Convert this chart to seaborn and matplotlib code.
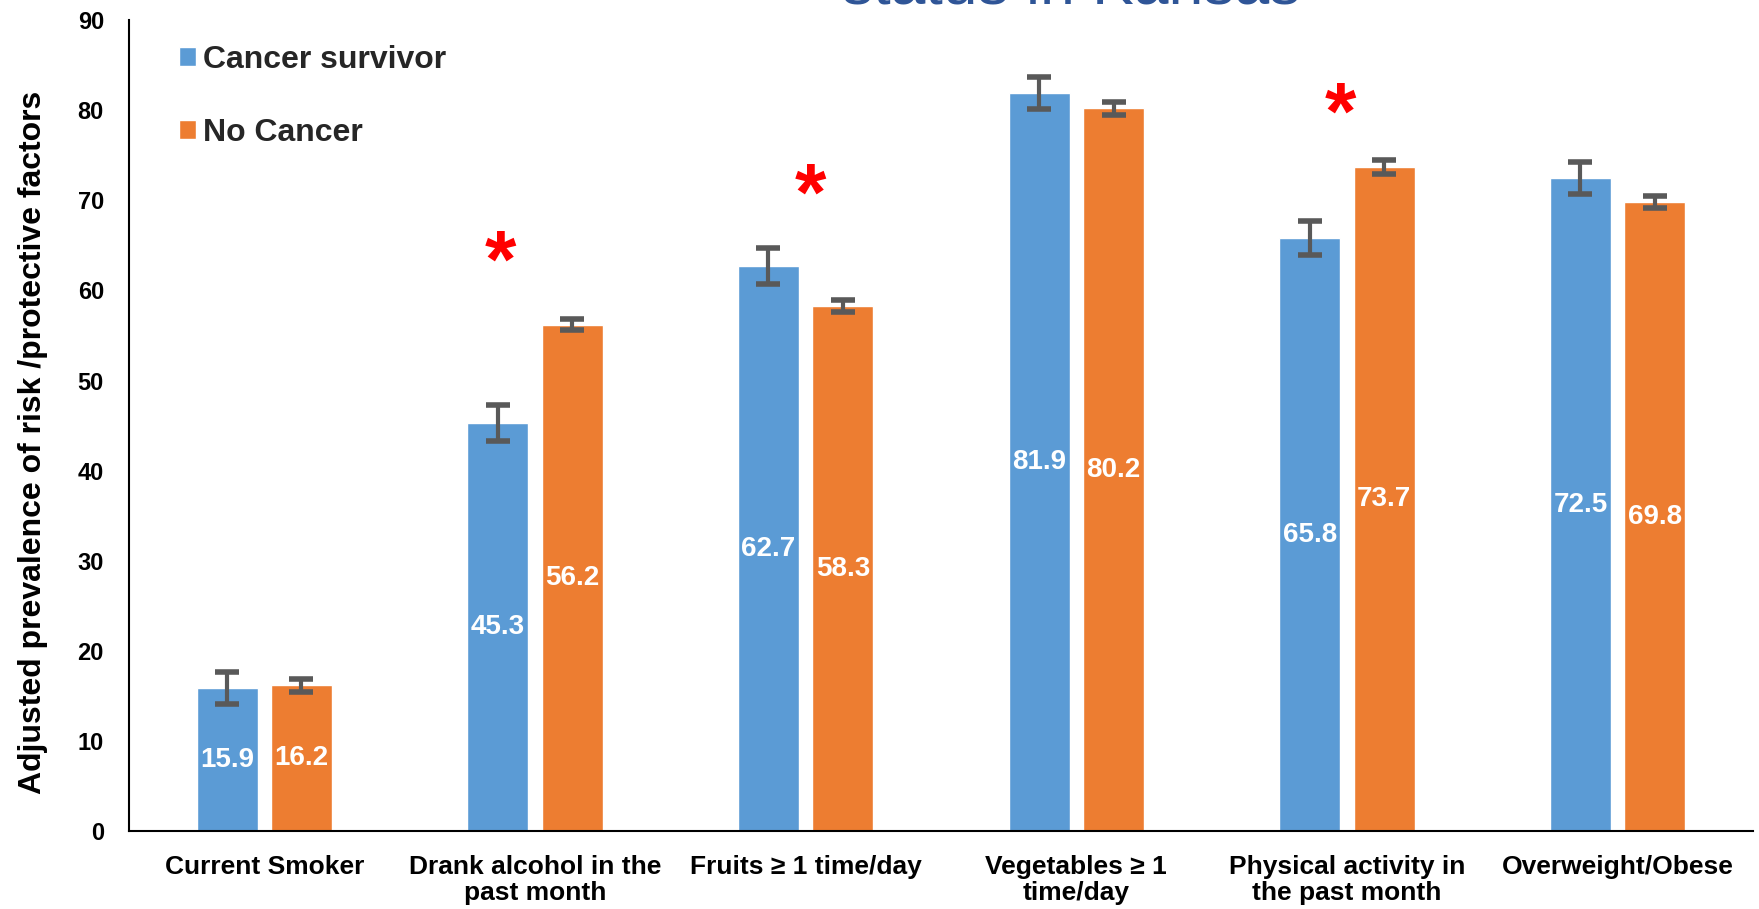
import pandas as pd
import seaborn as sns
import matplotlib.pyplot as plt

# values
categories = ["Current Smoker", "Drank alcohol in the\npast month", "Fruits ≥ 1 time/day",
              "Vegetables ≥ 1\ntime/day", "Physical activity in\nthe past month", "Overweight/Obese"]
groups = ["Cancer survivor", "No Cancer"]
survivor = [15.9, 45.3, 62.7, 81.9, 65.8, 72.5]
no_cancer = [16.2, 56.2, 58.3, 80.2, 73.7, 69.8]
survivor_err = [1.75, 2.0, 2.0, 1.75, 1.9, 1.75]
no_cancer_err = [0.7, 0.6, 0.7, 0.7, 0.75, 0.7]
significant = [False, True, True, False, True, False]


def plot_prevalence():
    df = pd.DataFrame({
        "category": categories * 2,
        "group": [groups[0]] * len(categories) + [groups[1]] * len(categories),
        "value": survivor + no_cancer,
    })

    sns.set_theme(style="white")
    plt.rcParams["font.family"] = ["Liberation Sans", "DejaVu Sans"]

    fig = plt.figure(figsize=(17.59, 9.09), dpi=100)
    ax = fig.add_axes([0.0733, 0.0853, 0.9233, 0.8927])

    sns.barplot(data=df, x="category", y="value", hue="group", order=categories,
                hue_order=groups, palette=["#5B9BD5", "#ED7D31"], width=0.55, gap=0.18,
                errorbar=None, saturation=1, ax=ax)

    # error bars + labels in the middle of each bar
    errs = [survivor_err, no_cancer_err]
    for cont, err in zip(ax.containers, errs):
        xs = [b.get_x() + b.get_width() / 2 for b in cont]
        hs = [b.get_height() for b in cont]
        ax.errorbar(xs, hs, yerr=err, fmt="none", ecolor="#595959", elinewidth=3,
                    capsize=8.5, capthick=4, zorder=3)
        ax.bar_label(cont, fmt="%.1f", label_type="center", color="white",
                     fontsize=20, fontweight="bold")

    # red stars over the significant differences (placed by hand, as in the original)
    star_pos = {1: (-0.126, 64.8), 2: (0.016, 72.3), 4: (-0.026, 81.2)}
    for i, sig in enumerate(significant):
        if sig:
            dx, y = star_pos[i]
            ax.text(i + dx, y - 4.4, "*", color="red", fontsize=58,
                    fontweight="bold", ha="center", va="baseline")

    ax.set_ylim(0, 90)
    ax.set_xlim(-0.5, len(categories) - 0.5)
    ax.set_yticks(range(0, 91, 10))
    ax.tick_params(axis="x", length=0, pad=17, labelsize=19)
    ax.tick_params(axis="y", length=0, pad=18, labelsize=17)
    for lab in ax.get_xticklabels() + ax.get_yticklabels():
        lab.set_fontweight("bold")
        lab.set_color("black")
        lab.set_linespacing(1.1)
    ax.set_xlabel("")
    ax.set_ylabel("Adjusted prevalence of risk /protective factors", fontsize=23,
                  fontweight="bold", color="black", va="center")
    ax.yaxis.set_label_coords(-0.059, 0.479)

    sns.despine(ax=ax)
    for side in ["left", "bottom"]:
        ax.spines[side].set_color("black")
        ax.spines[side].set_linewidth(1.5)

    sns.move_legend(ax, "upper left", bbox_to_anchor=(0.013, 1.005), frameon=False,
                    title="", prop={"weight": "bold", "size": 23}, handlelength=0.55,
                    handleheight=0.55, handletextpad=0.22, labelspacing=1.35)

    # title, mostly cut off by the top edge in the original
    fig.text(0.609, 1 - 4 / 909, "status in Kansas", ha="center", va="baseline",
             fontsize=45, color="#2F5597")

    fig.savefig("out.png", dpi=100)


if __name__ == "__main__":
    plot_prevalence()
